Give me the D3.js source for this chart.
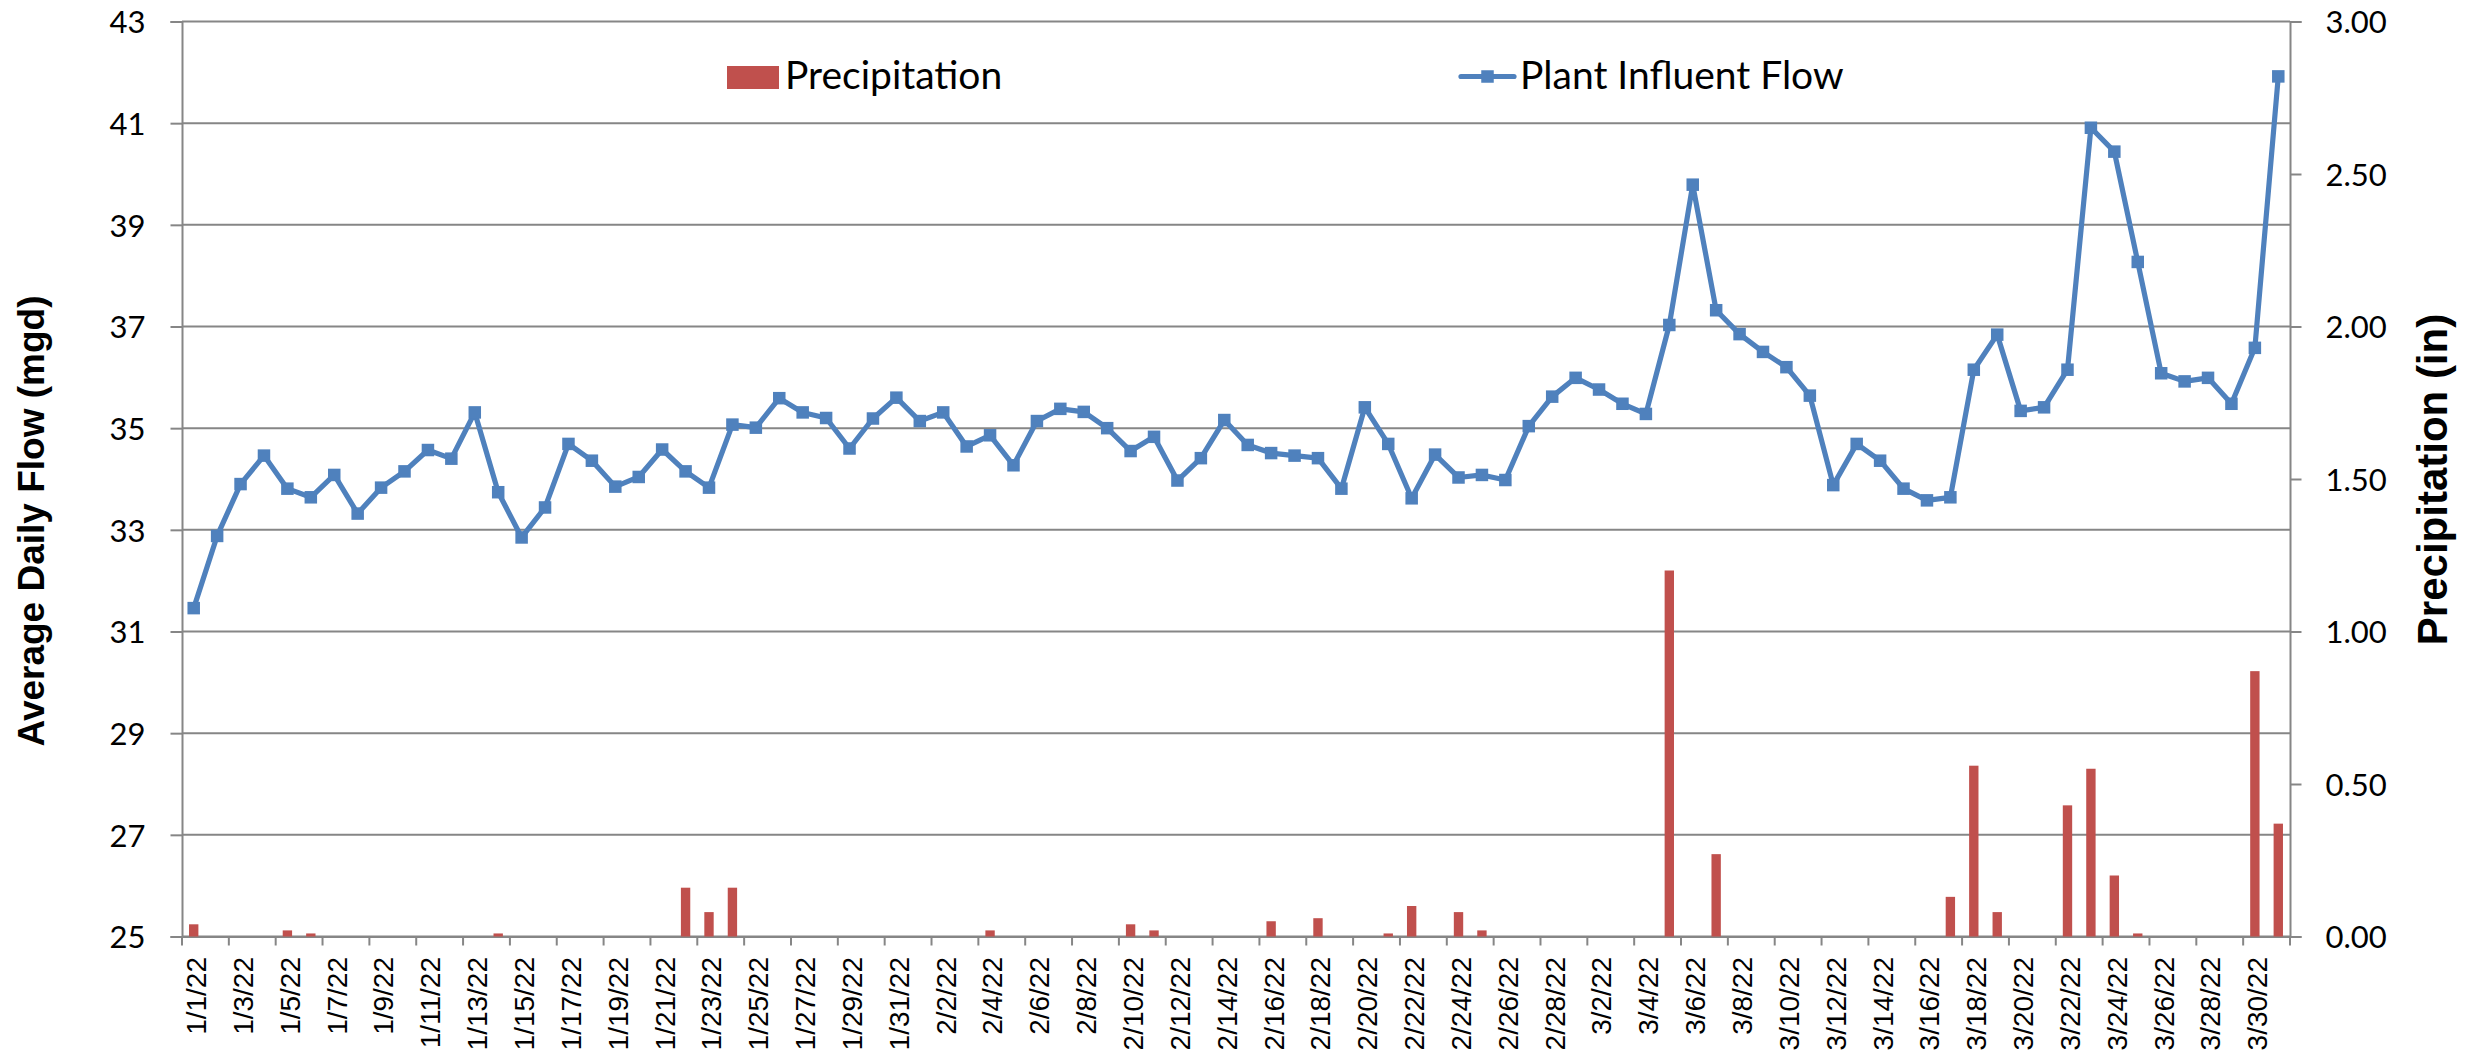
<!DOCTYPE html>
<html>
<head>
<meta charset="utf-8">
<script src="https://cdn.jsdelivr.net/npm/d3@7"></script>
<style>
  html, body { margin: 0; padding: 0; background: #fff; }
  svg { display: block; }
</style>
</head>
<body>
<svg id="chart" width="2473" height="1052"></svg>
<script>
const dates = [
  "1/1/22","1/2/22","1/3/22","1/4/22","1/5/22","1/6/22","1/7/22","1/8/22","1/9/22","1/10/22",
  "1/11/22","1/12/22","1/13/22","1/14/22","1/15/22","1/16/22","1/17/22","1/18/22","1/19/22","1/20/22",
  "1/21/22","1/22/22","1/23/22","1/24/22","1/25/22","1/26/22","1/27/22","1/28/22","1/29/22","1/30/22",
  "1/31/22","2/1/22","2/2/22","2/3/22","2/4/22","2/5/22","2/6/22","2/7/22","2/8/22","2/9/22",
  "2/10/22","2/11/22","2/12/22","2/13/22","2/14/22","2/15/22","2/16/22","2/17/22","2/18/22","2/19/22",
  "2/20/22","2/21/22","2/22/22","2/23/22","2/24/22","2/25/22","2/26/22","2/27/22","2/28/22","3/1/22",
  "3/2/22","3/3/22","3/4/22","3/5/22","3/6/22","3/7/22","3/8/22","3/9/22","3/10/22","3/11/22",
  "3/12/22","3/13/22","3/14/22","3/15/22","3/16/22","3/17/22","3/18/22","3/19/22","3/20/22","3/21/22",
  "3/22/22","3/23/22","3/24/22","3/25/22","3/26/22","3/27/22","3/28/22","3/29/22","3/30/22","3/31/22"
];

// Plant Influent Flow (mgd)
const flow = [
  31.46, 32.88, 33.90, 34.46, 33.81, 33.64, 34.08, 33.32, 33.83, 34.15,
  34.57, 34.40, 35.31, 33.74, 32.85, 33.44, 34.69, 34.36, 33.85, 34.04,
  34.58, 34.15, 33.83, 35.07, 35.01, 35.59, 35.31, 35.20, 34.60, 35.19,
  35.60, 35.14, 35.31, 34.64, 34.86, 34.27, 35.14, 35.38, 35.32, 35.00,
  34.55, 34.83, 33.97, 34.41, 35.16, 34.67, 34.51, 34.46, 34.41, 33.81,
  35.41, 34.69, 33.62, 34.48, 34.03, 34.08, 33.98, 35.04, 35.62, 35.99,
  35.76, 35.48, 35.28, 37.03, 39.79, 37.32, 36.85, 36.50, 36.20, 35.64,
  33.88, 34.69, 34.36, 33.81, 33.58, 33.64, 36.15, 36.84, 35.34, 35.41,
  36.15, 40.91, 40.44, 38.27, 36.08, 35.92, 35.99, 35.48, 36.58, 41.92
];

// Precipitation (in)
const precip = [
  0.04, 0, 0, 0, 0.02, 0.01, 0, 0, 0, 0,
  0, 0, 0, 0.01, 0, 0, 0, 0, 0, 0,
  0, 0.16, 0.08, 0.16, 0, 0, 0, 0, 0, 0,
  0, 0, 0, 0, 0.02, 0, 0, 0, 0, 0,
  0.04, 0.02, 0, 0, 0, 0, 0.05, 0, 0.06, 0,
  0, 0.01, 0.10, 0, 0.08, 0.02, 0, 0, 0, 0,
  0, 0, 0, 1.20, 0, 0.27, 0, 0, 0, 0,
  0, 0, 0, 0, 0, 0.13, 0.56, 0.08, 0, 0,
  0.43, 0.55, 0.20, 0.01, 0, 0, 0, 0, 0.87, 0.37
];

const flowTicks = [25, 27, 29, 31, 33, 35, 37, 39, 41, 43];
const precipTicks = [0, 0.5, 1.0, 1.5, 2.0, 2.5, 3.0];
const seriesNames = ["Precipitation", "Plant Influent Flow"];
const axisTitles = ["Average Daily Flow (mgd)", "Precipitation (in)"];

const W = 2473, H = 1052;
const M = { left: 182, right: 2290, top: 21.5, bottom: 936.5 };
const RED = "#C0504D", BLUE = "#4F81BD", GRID = "#868686";

const svg = d3.select("#chart");
svg.append("rect").attr("width", W).attr("height", H).attr("fill", "#fff");

const x = d3.scaleBand().domain(dates).range([M.left, M.right]).padding(0);
const yL = d3.scaleLinear().domain([25, 43]).range([M.bottom, M.top]);
const yR = d3.scaleLinear().domain([0, 3]).range([M.bottom, M.top]);
const bw = x.bandwidth();
const cx = d => x(d) + bw / 2;

// gridlines
svg.append("g").selectAll("line").data(flowTicks).join("line")
  .attr("x1", M.left).attr("x2", M.right)
  .attr("y1", d => yL(d)).attr("y2", d => yL(d))
  .attr("stroke", GRID).attr("stroke-width", 2);

// left axis
const gL = svg.append("g").attr("transform", `translate(${M.left},0)`)
  .call(d3.axisLeft(yL).tickValues(flowTicks).tickSize(11.5).tickPadding(25).tickFormat(d3.format("d")));
gL.select(".domain").attr("stroke", GRID).attr("stroke-width", 2);
gL.selectAll(".tick line").attr("stroke", GRID).attr("stroke-width", 2);
gL.selectAll(".tick text").attr("font-family", "Lato, 'Open Sans', sans-serif")
  .attr("font-size", 31).attr("fill", "#000").attr("dy", "0.36em");

// right axis
const gR = svg.append("g").attr("transform", `translate(${M.right},0)`)
  .call(d3.axisRight(yR).tickValues(precipTicks).tickSize(11.5).tickPadding(24).tickFormat(d3.format(".2f")));
gR.select(".domain").attr("stroke", GRID).attr("stroke-width", 2);
gR.selectAll(".tick line").attr("stroke", GRID).attr("stroke-width", 2);
gR.selectAll(".tick text").attr("font-family", "Lato, 'Open Sans', sans-serif")
  .attr("font-size", 31).attr("fill", "#000").attr("dy", "0.36em");

// x axis line + tick marks at every 2nd category boundary
const gX = svg.append("g").attr("transform", `translate(0,${M.bottom})`)
  .call(d3.axisBottom(x).tickValues(dates.filter((d, i) => i % 2 === 0)).tickSize(0).tickPadding(0).tickFormat(""));
gX.select(".domain").attr("stroke", GRID).attr("stroke-width", 2);
gX.selectAll(".tick").remove();
const boundaries = dates.filter((d, i) => i % 2 === 0).map(d => x(d)).concat([M.right]);
svg.append("g").selectAll("line").data(boundaries).join("line")
  .attr("x1", d => d).attr("x2", d => d)
  .attr("y1", M.bottom).attr("y2", M.bottom + 9)
  .attr("stroke", GRID).attr("stroke-width", 2);

// x labels
svg.append("g").selectAll("text").data(dates.filter((d, i) => i % 2 === 0)).join("text")
  .attr("transform", d => `translate(${cx(d) + 12.4},${M.bottom + 20.5}) rotate(-90)`)
  .attr("text-anchor", "end")
  .attr("font-family", "'Liberation Sans', Arial, sans-serif")
  .attr("font-size", 28).attr("fill", "#000")
  .text(d => d);

// bars
const barW = bw * 0.4;
svg.append("g").selectAll("rect").data(dates.map((d, i) => ({ d, v: precip[i] })).filter(o => o.v > 0)).join("rect")
  .attr("x", o => cx(o.d) - barW / 2)
  .attr("width", barW)
  .attr("y", o => yR(o.v))
  .attr("height", o => yR(0) - yR(o.v))
  .attr("fill", RED);

// line
const pts = dates.map((d, i) => ({ d, v: flow[i] }));
svg.append("path").datum(pts)
  .attr("fill", "none").attr("stroke", BLUE).attr("stroke-width", 5.2)
  .attr("stroke-linejoin", "round").attr("stroke-linecap", "round")
  .attr("d", d3.line().x(o => cx(o.d)).y(o => yL(o.v)));
const MS = 12.5;
svg.append("g").selectAll("rect").data(pts).join("rect")
  .attr("x", o => cx(o.d) - MS / 2).attr("y", o => yL(o.v) - MS / 2)
  .attr("width", MS).attr("height", MS).attr("fill", BLUE);

// axis titles
svg.append("text")
  .attr("transform", `translate(44,521) rotate(-90)`)
  .attr("text-anchor", "middle")
  .attr("font-family", "'Liberation Sans', Arial, sans-serif")
  .attr("font-weight", "bold").attr("font-size", 37).attr("fill", "#000")
  .text(axisTitles[0]);
svg.append("text")
  .attr("transform", `translate(2447,479.5) rotate(-90)`)
  .attr("text-anchor", "middle")
  .attr("font-family", "'Liberation Sans', Arial, sans-serif")
  .attr("font-weight", "bold").attr("font-size", 42).attr("fill", "#000")
  .text(axisTitles[1]);

// legend
const lg = svg.append("g");
lg.append("rect").attr("x", 727).attr("y", 66).attr("width", 52).attr("height", 23).attr("fill", RED);
lg.append("text").attr("x", 785).attr("y", 89)
  .attr("font-family", "Lato, 'Open Sans', sans-serif").attr("font-size", 39).attr("fill", "#000")
  .text(seriesNames[0]);
lg.append("line").attr("x1", 1461).attr("x2", 1514).attr("y1", 76.5).attr("y2", 76.5)
  .attr("stroke", BLUE).attr("stroke-width", 5.2).attr("stroke-linecap", "round");
lg.append("rect").attr("x", 1487.5 - MS / 2).attr("y", 76.5 - MS / 2).attr("width", MS).attr("height", MS).attr("fill", BLUE);
lg.append("text").attr("x", 1520).attr("y", 89)
  .attr("font-family", "Lato, 'Open Sans', sans-serif").attr("font-size", 39).attr("fill", "#000")
  .text(seriesNames[1]);
</script>
</body>
</html>
